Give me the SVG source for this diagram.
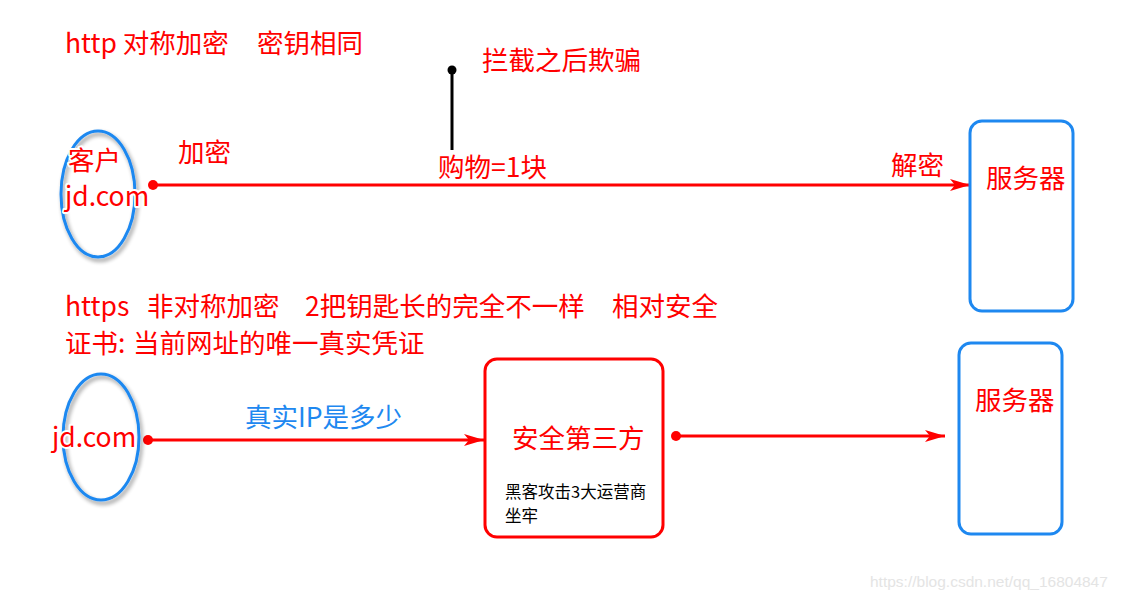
<svg xmlns="http://www.w3.org/2000/svg" width="1122" height="600" viewBox="0 0 1122 600">
<defs>
<style>
.t{font-family:"Noto Sans CJK SC","Liberation Sans",sans-serif;fill:#ff0000;font-size:26.5px}
.s{font-family:"Noto Sans CJK SC","Liberation Sans",sans-serif;fill:#000;font-size:16.5px}
.b{fill:#1e88f0}
.halo{paint-order:stroke;stroke:#fff;stroke-width:4px;stroke-linejoin:round}
.line{stroke:#ff0000;stroke-width:3;fill:none}
.ell{fill:none;stroke:#1e88f0;stroke-width:3}
.box{fill:#fff;stroke:#1e88f0;stroke-width:3}
</style>
<marker id="arr" viewBox="0 0 20 12" refX="20" refY="6" markerWidth="20" markerHeight="12" markerUnits="userSpaceOnUse" orient="auto">
<path d="M0,0 L20,6 L0,12 L5,6 Z" fill="#ff0000"/>
</marker>
<marker id="dot" viewBox="0 0 10 10" refX="5" refY="5" markerWidth="10" markerHeight="10" markerUnits="userSpaceOnUse">
<circle cx="5" cy="5" r="5" fill="#ff0000"/>
</marker>
<filter id="sh" x="-30%" y="-30%" width="160%" height="160%">
<feGaussianBlur in="SourceAlpha" stdDeviation="2"/>
<feOffset dx="2" dy="3"/>
<feComponentTransfer><feFuncA type="linear" slope="0.45"/></feComponentTransfer>
<feMerge><feMergeNode/><feMergeNode in="SourceGraphic"/></feMerge>
</filter>
</defs>
<rect width="1122" height="600" fill="#fff"/>

<text class="t" x="65" y="53">http 对称加密<tspan x="257">密钥相同</tspan></text>
<text class="t" x="65" y="316">https<tspan x="147">非对称加密</tspan><tspan x="305">2把钥匙长的完全不一样</tspan><tspan x="612">相对安全</tspan></text>
<text class="t" x="65" y="353">证书:<tspan x="133">当前网址的唯一真实凭证</tspan></text>

<g id="connectors">
<line class="line" x1="153" y1="185" x2="970" y2="185" marker-start="url(#dot)" marker-end="url(#arr)"/>
<line x1="452" y1="70" x2="452" y2="150" stroke="#000" stroke-width="3"/>
<circle cx="452" cy="70" r="4.5" fill="#000"/>
<line class="line" x1="148" y1="440" x2="484" y2="440" marker-start="url(#dot)" marker-end="url(#arr)"/>
<line class="line" x1="676" y1="436" x2="945" y2="436" marker-start="url(#dot)" marker-end="url(#arr)"/>
<text class="t" x="178" y="162">加密</text>
<text class="t" x="482" y="70">拦截之后欺骗</text>
<text class="t" x="438" y="177">购物=1块</text>
<text class="t" x="891" y="175">解密</text>
<text class="t b" x="245" y="427">真实IP是多少</text>
</g>

<g id="client1">
<ellipse class="ell" cx="98" cy="194" rx="37" ry="63" filter="url(#sh)"/>
<text class="t halo" x="68" y="170">客户</text>
<text class="t halo" x="65" y="206">jd.com</text>
</g>

<g id="server1">
<rect class="box" x="970" y="121" width="103" height="190" rx="12"/>
<text class="t" x="986" y="188">服务器</text>
</g>

<g id="client2">
<ellipse class="ell" cx="101" cy="437" rx="38" ry="63" filter="url(#sh)"/>
<text class="t halo" x="52" y="447">jd.com</text>
</g>

<g id="thirdparty">
<rect x="485" y="359" width="178" height="178" rx="12" fill="#fff" stroke="#ff0000" stroke-width="3"/>
<text class="t" x="512" y="448">安全第三方</text>
<text class="s" x="505" y="498">黑客攻击3大运营商</text>
<text class="s" x="505" y="522">坐牢</text>
</g>

<g id="server2">
<rect class="box" x="959" y="343" width="103" height="191" rx="12"/>
<text class="t" x="975" y="410">服务器</text>
</g>

<text x="870" y="587" font-family="Liberation Sans, Arial, sans-serif" font-size="15.5" fill="#e4e4e4">https://blog.csdn.net/qq_16804847</text>
</svg>
